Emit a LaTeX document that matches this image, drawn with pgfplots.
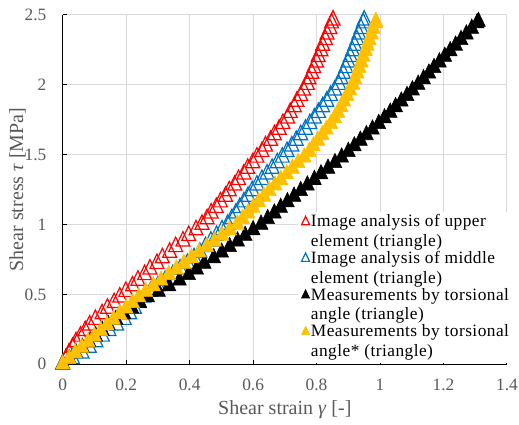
\documentclass[border=0pt]{standalone}
\usepackage{fontspec}
\setmainfont{Liberation Serif}
\newfontfamily\legendfont[LetterSpace=2.7]{Liberation Serif}
\usepackage{pgfplots}
\pgfplotsset{compat=1.18}
\definecolor{cRed}{HTML}{FF0000}
\definecolor{cBlue}{HTML}{0070C0}
\definecolor{cGold}{HTML}{FFC000}
\definecolor{cText}{HTML}{595959}
\definecolor{cGrid}{HTML}{D9D9D9}

\begin{document}
\begin{tikzpicture}
\begin{axis}[
  at={(0,0)}, anchor=south west,
  scale only axis, width=333.2pt, height=262.2pt,
  xmin=0, xmax=1.4, ymin=0, ymax=2.5,
  xtick={0,0.2,0.4,0.6,0.8,1,1.2,1.4},
  ytick={0,0.5,1,1.5,2,2.5},
  axis x line=bottom, axis y line=left,
  every outer x axis line/.append style={-},
  every outer y axis line/.append style={-},
  axis line style={-, black, line width=0.75pt},
  tick align=inside, major tick length=3.5pt,
  tick style={black, line width=0.75pt},
  grid=major, grid style={cGrid, line width=0.75pt},
  clip=false,
  /pgf/number format/assume math mode=true,
  ticklabel style={font=\fontsize{13pt}{15pt}\selectfont, text=cText},
  xticklabel style={anchor=north, inner sep=0pt, yshift=-11pt},
  yticklabel style={anchor=east, inner sep=0pt, xshift=-12pt},
  label style={font=\fontsize{15pt}{18pt}\selectfont, text=cText},
  xlabel={Shear strain \textit{γ} [-]},
  ylabel={Shear stress \textit{τ} [MPa]},
  xlabel style={at={(axis description cs:0.5,0)}, anchor=center, yshift=-34.3pt},
  ylabel style={at={(axis description cs:-0.1014,0.5)}, anchor=center},
  legend cell align=left,
  legend image code/.code={\draw[#1, mark size=3.5pt] plot coordinates {(0pt,0pt)};},
  legend style={at={(0.528,0.4374)}, anchor=north west, draw=none, fill=white,
    font=\legendfont\fontsize{13pt}{15pt}\selectfont, inner xsep=3pt, inner ysep=2pt,
    row sep=0pt, column sep=1pt,
    nodes={inner sep=0pt, text height=9.5pt, text depth=2pt}},
]
% upper element (open red)
\addplot[only marks, mark=triangle, mark size=6pt, cRed,
  mark options={line width=0.9pt, yscale=1.2}] coordinates {
(0,0) (0.010,0.04) (0.020,0.08) (0.031,0.12) (0.042,0.16) (0.056,0.20)
(0.071,0.24) (0.085,0.28) (0.103,0.32) (0.124,0.36) (0.141,0.40) (0.162,0.44)
(0.180,0.48) (0.199,0.52) (0.220,0.56) (0.237,0.60) (0.258,0.64) (0.275,0.68)
(0.297,0.72) (0.314,0.76) (0.337,0.80) (0.356,0.84) (0.379,0.88) (0.397,0.92)
(0.420,0.96) (0.439,1.00) (0.455,1.04) (0.468,1.08) (0.484,1.12) (0.497,1.16)
(0.513,1.20) (0.525,1.24) (0.542,1.28) (0.554,1.32) (0.571,1.36) (0.583,1.40)
(0.599,1.44) (0.612,1.48) (0.628,1.52) (0.639,1.56) (0.655,1.60) (0.667,1.64)
(0.682,1.68) (0.694,1.72) (0.709,1.76) (0.717,1.80) (0.730,1.84) (0.738,1.88)
(0.750,1.92) (0.759,1.96) (0.771,2.00) (0.776,2.04) (0.785,2.08) (0.791,2.12)
(0.800,2.16) (0.805,2.20) (0.814,2.24) (0.819,2.28) (0.828,2.32) (0.833,2.36)
(0.842,2.40) (0.847,2.44) (0.852,2.46)
};
\addlegendentry{Image analysis of upper}
\addlegendimage{empty legend}
\addlegendentry[text height=12.7pt, text depth=3.25pt]{element (triangle)}

% middle element (open blue)
\addplot[only marks, mark=triangle, mark size=6pt, cBlue,
  mark options={line width=0.9pt, yscale=1.2}] coordinates {
(0,0) (0.031,0.04) (0.061,0.08) (0.084,0.12) (0.105,0.16) (0.125,0.20)
(0.146,0.24) (0.170,0.28) (0.194,0.32) (0.211,0.36) (0.226,0.40) (0.241,0.44)
(0.256,0.48) (0.277,0.52) (0.300,0.56) (0.323,0.60) (0.347,0.64) (0.370,0.68)
(0.393,0.72) (0.414,0.76) (0.432,0.80) (0.450,0.84) (0.467,0.88) (0.485,0.92)
(0.502,0.96) (0.520,1.00) (0.533,1.04) (0.546,1.08) (0.558,1.12) (0.571,1.16)
(0.584,1.20) (0.597,1.24) (0.612,1.28) (0.628,1.32) (0.644,1.36) (0.660,1.40)
(0.676,1.44) (0.692,1.48) (0.707,1.52) (0.722,1.56) (0.736,1.60) (0.750,1.64)
(0.765,1.68) (0.779,1.72) (0.793,1.76) (0.806,1.80) (0.819,1.84) (0.832,1.88)
(0.844,1.92) (0.857,1.96) (0.870,2.00) (0.877,2.04) (0.884,2.08) (0.892,2.12)
(0.899,2.16) (0.906,2.20) (0.913,2.24) (0.920,2.28) (0.927,2.32) (0.933,2.36)
(0.940,2.40) (0.947,2.44) (0.950,2.46)
};
\addlegendentry{Image analysis of middle}
\addlegendimage{empty legend}
\addlegendentry[text height=12.7pt, text depth=3.25pt]{element (triangle)}

% torsional angle (black)
\addplot[only marks, mark=triangle*, mark size=6pt, black,
  mark options={yscale=1.2}] coordinates {
(0,0) (0.021,0.04) (0.042,0.08) (0.062,0.12) (0.083,0.16) (0.104,0.20)
(0.125,0.24) (0.144,0.28) (0.168,0.32) (0.193,0.36) (0.218,0.40) (0.243,0.44)
(0.268,0.48) (0.302,0.52) (0.335,0.56) (0.368,0.60) (0.397,0.64) (0.422,0.68)
(0.446,0.72) (0.476,0.76) (0.501,0.80) (0.526,0.84) (0.551,0.88) (0.575,0.92)
(0.600,0.96) (0.625,1.00) (0.646,1.04) (0.667,1.08) (0.687,1.12) (0.708,1.16)
(0.729,1.20) (0.750,1.24) (0.771,1.28) (0.793,1.32) (0.814,1.36) (0.836,1.40)
(0.858,1.44) (0.879,1.48) (0.900,1.52) (0.919,1.56) (0.938,1.60) (0.957,1.64)
(0.976,1.68) (0.996,1.72) (1.014,1.76) (1.032,1.80) (1.049,1.84) (1.067,1.88)
(1.085,1.92) (1.102,1.96) (1.120,2.00) (1.137,2.04) (1.154,2.08) (1.170,2.12)
(1.187,2.16) (1.204,2.20) (1.221,2.24) (1.238,2.28) (1.255,2.32) (1.272,2.36)
(1.289,2.40) (1.306,2.44) (1.310,2.45)
};
\addlegendentry{Measurements by torsional}
\addlegendimage{empty legend}
\addlegendentry[text height=12.7pt, text depth=3.25pt]{angle (triangle)}

% torsional angle* (gold)
\addplot[only marks, mark=triangle*, mark size=6pt, cGold,
  mark options={yscale=1.2}] coordinates {
(0,0) (0.020,0.04) (0.040,0.08) (0.060,0.12) (0.080,0.16) (0.100,0.20)
(0.120,0.24) (0.140,0.28) (0.160,0.32) (0.180,0.36) (0.200,0.40) (0.220,0.44)
(0.240,0.48) (0.262,0.52) (0.286,0.56) (0.310,0.60) (0.334,0.64) (0.358,0.68)
(0.382,0.72) (0.406,0.76) (0.430,0.80) (0.454,0.84) (0.478,0.88) (0.502,0.92)
(0.526,0.96) (0.550,1.00) (0.567,1.04) (0.584,1.08) (0.600,1.12) (0.617,1.16)
(0.634,1.20) (0.651,1.24) (0.669,1.28) (0.687,1.32) (0.706,1.36) (0.724,1.40)
(0.742,1.44) (0.761,1.48) (0.777,1.52) (0.790,1.56) (0.804,1.60) (0.818,1.64)
(0.831,1.68) (0.845,1.72) (0.857,1.76) (0.867,1.80) (0.877,1.84) (0.886,1.88)
(0.896,1.92) (0.905,1.96) (0.915,2.00) (0.921,2.04) (0.928,2.08) (0.934,2.12)
(0.941,2.16) (0.947,2.20) (0.954,2.24) (0.960,2.28) (0.966,2.32) (0.973,2.36)
(0.979,2.40) (0.986,2.44) (0.987,2.45)
};
\addlegendentry{Measurements by torsional}
\addlegendimage{empty legend}
\addlegendentry[text height=12.7pt, text depth=3.25pt]{angle* (triangle)}

\end{axis}
\pgfresetboundingbox
\path[use as bounding box] (-47pt,-45.5pt) rectangle (342.2pt,273.2pt);
\end{tikzpicture}
\end{document}
